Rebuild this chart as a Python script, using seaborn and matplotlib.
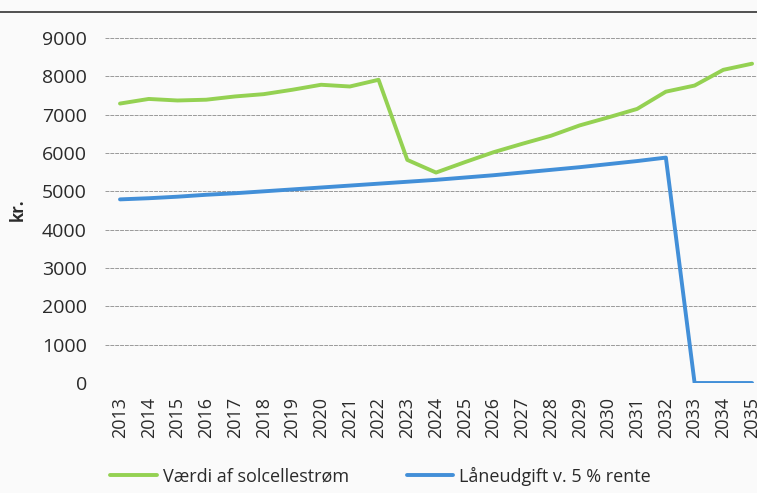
import numpy as np
import pandas as pd
import matplotlib.pyplot as plt
import seaborn as sns
from matplotlib.lines import Line2D

years = list(range(2013, 2036))
solar_value = [7290, 7410, 7370, 7390, 7475, 7535, 7650, 7780, 7735, 7910,
               5820, 5490, 5760, 6020, 6240, 6450, 6720, 6930, 7150, 7600,
               7760, 8170, 8330]
loan_cost = [4790, 4820, 4860, 4910, 4950, 5000, 5050, 5100, 5150, 5200,
             5250, 5300, 5360, 5420, 5490, 5560, 5630, 5710, 5790, 5880,
             0, 0, 0]
series_names = ['Værdi af solcellestrøm', 'Låneudgift v. 5 % rente']
y_ticks = list(range(0, 9001, 1000))

df = pd.DataFrame({'year': years * 2,
                   'value': solar_value + loan_cost,
                   'series': [series_names[0]] * len(years) + [series_names[1]] * len(years)})

sns.set_style('white')
plt.rcParams['font.family'] = ['Open Sans', 'DejaVu Sans']

W, H = 757, 493
fig = plt.figure(figsize=(W / 100, H / 100), dpi=100)
paper = '#fafafa'
fig.patch.set_facecolor(paper)

ax = fig.add_axes([105 / W, 1 - 383 / H, (W - 105) / W, 345 / H])
ax.set_facecolor(paper)

palette = {series_names[0]: '#94d152', series_names[1]: '#428fd8'}
sns.lineplot(data=df, x='year', y='value', hue='series', palette=palette,
             linewidth=2.8, ax=ax, legend=False, zorder=3)

ax.set_ylim(0, 9000)
ax.set_yticks(y_ticks)
ax.set_xticks(years)
ax.set_xticklabels([str(y) for y in years], rotation=90)
ax.set_xlim(2013 - 15 / 28.73, 2013 + (W - 120) / 28.73)
ax.yaxis.grid(True, color='#9a9a9a', linewidth=0.7, linestyle=(0, (4, 1)))
ax.tick_params(axis='y', labelsize=14, pad=13, length=0, labelcolor='#2a2a2a')
ax.tick_params(axis='x', labelsize=13, pad=10, length=0, labelcolor='#2a2a2a')
ax.set_xlabel('')
ax.set_ylabel('')
for s in ax.spines.values():
    s.set_visible(False)

fig.text(18 / W, 1 - 210 / H, 'kr.', rotation=90, fontsize=12, fontweight='bold',
         ha='center', va='center', color='#2a2a2a')

# top border line of the scanned frame
fig.add_artist(Line2D([0, 1], [1 - 12 / H, 1 - 12 / H], color='#333333', linewidth=1.2))

handles = [Line2D([], [], color=palette[n], linewidth=2.8) for n in series_names]
fig.legend(handles, series_names, loc='center left', ncol=2, frameon=False,
           bbox_to_anchor=(94 / W, 1 - 476 / H), fontsize=13,
           handlelength=2.6, handletextpad=0.3, columnspacing=3.2,
           labelcolor='#2a2a2a')

fig.savefig('out.png', dpi=100, facecolor=paper)
